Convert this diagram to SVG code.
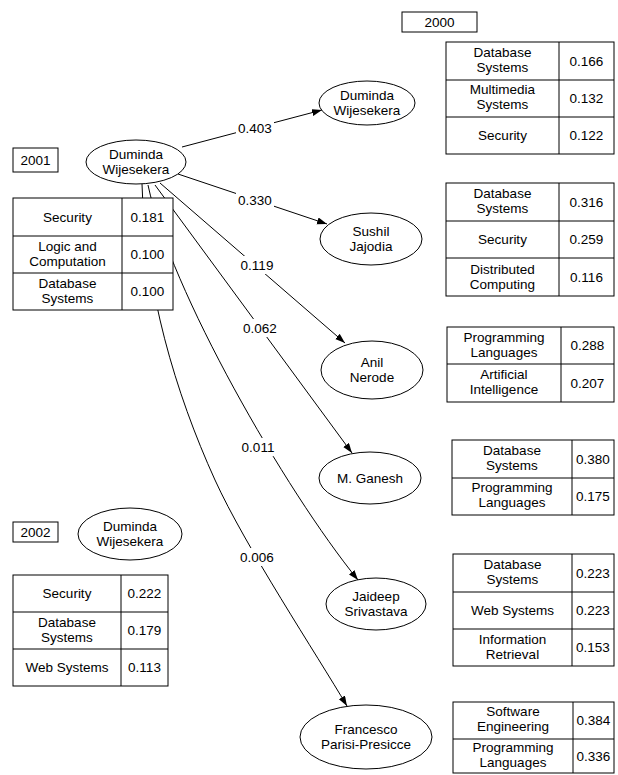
<svg xmlns="http://www.w3.org/2000/svg" width="618" height="775" viewBox="0 0 618 775">
<defs>
<marker id="arr" markerUnits="userSpaceOnUse" markerWidth="11" markerHeight="8" refX="10" refY="3.5" orient="auto">
<path d="M0,0 L10,3.5 L0,7 z" fill="#000"/>
</marker>
</defs>
<style>
text{font-family:"Liberation Sans",Arial,sans-serif;font-size:13.5px;fill:#000;text-anchor:middle}
.e{fill:#fff;stroke:#000;stroke-width:1}
.b{fill:#fff;stroke:#000;stroke-width:1}
.l{fill:none;stroke:#000;stroke-width:1}
.c{fill:none;stroke:#000;stroke-width:1;marker-end:url(#arr)}
.bg{fill:#fff;stroke:none}
</style>
<rect width="618" height="775" fill="#fff"/>

<g id="connectors">
<path class="c" d="M182,147 L322,110"/>
<path class="c" d="M178,174 L327,224"/>
<path class="c" d="M160,183 L345,343"/>
<path class="c" d="M155,185 L352,453"/>
<path class="c" d="M148,185 C170,290 285,490 358,580"/>
<path class="c" d="M142,184 C145,290 175,392 215,480 C245,546 317,655 347,706"/>
<rect class="bg" x="236" y="119" width="38" height="18"/><text x="255" y="132.5">0.403</text>
<rect class="bg" x="236" y="191" width="38" height="18"/><text x="255" y="204.5">0.330</text>
<rect class="bg" x="238" y="256" width="38" height="18"/><text x="257" y="269.5">0.119</text>
<rect class="bg" x="241" y="319" width="38" height="18"/><text x="260" y="332.5">0.062</text>
<rect class="bg" x="239" y="438" width="38" height="18"/><text x="258" y="451.5">0.011</text>
<rect class="bg" x="238" y="548" width="38" height="18"/><text x="257" y="561.5">0.006</text>
</g>

<g id="year2001">
<rect class="b" x="13" y="148" width="45" height="24"/>
<text x="35.5" y="164.5">2001</text>
</g>
<g id="dw2001">
<ellipse class="e" cx="136" cy="162" rx="50" ry="22"/>
<text x="136" y="158.5">Duminda</text>
<text x="136" y="173.5">Wijesekera</text>
</g>
<g id="table2001">
<rect class="b" x="13" y="198" width="160" height="112"/>
<path class="l" d="M122,198 V310 M13,236 H173 M13,273 H173"/>
<text x="67.5" y="221.5">Security</text><text x="147.5" y="221.5">0.181</text>
<text x="67.5" y="251">Logic and</text><text x="67.5" y="266">Computation</text><text x="147.5" y="259">0.100</text>
<text x="67.5" y="288">Database</text><text x="67.5" y="303">Systems</text><text x="147.5" y="296">0.100</text>
</g>

<g id="year2000">
<rect class="b" x="402" y="12" width="75" height="20"/>
<text x="439.5" y="26.5">2000</text>
</g>
<g id="dw2000">
<ellipse class="e" cx="367" cy="103" rx="48" ry="22"/>
<text x="367" y="100">Duminda</text>
<text x="367" y="115">Wijesekera</text>
</g>
<g id="table2000">
<rect class="b" x="446" y="42" width="168" height="112"/>
<path class="l" d="M559,42 V154 M446,80 H614 M446,117 H614"/>
<text x="502.5" y="57">Database</text><text x="502.5" y="72">Systems</text><text x="586.5" y="65.5">0.166</text>
<text x="502.5" y="94">Multimedia</text><text x="502.5" y="109">Systems</text><text x="586.5" y="102.5">0.132</text>
<text x="502.5" y="140">Security</text><text x="586.5" y="140">0.122</text>
</g>

<g id="sushil">
<ellipse class="e" cx="371" cy="239" rx="51" ry="26"/>
<text x="371" y="236">Sushil</text>
<text x="371" y="251">Jajodia</text>
</g>
<g id="tableSushil">
<rect class="b" x="446" y="183" width="168" height="113"/>
<path class="l" d="M559,183 V296 M446,221 H614 M446,258 H614"/>
<text x="502.5" y="198">Database</text><text x="502.5" y="213">Systems</text><text x="586.5" y="206.5">0.316</text>
<text x="502.5" y="244">Security</text><text x="586.5" y="244">0.259</text>
<text x="502.5" y="274">Distributed</text><text x="502.5" y="289">Computing</text><text x="586.5" y="281.5">0.116</text>
</g>

<g id="anil">
<ellipse class="e" cx="372" cy="370" rx="51" ry="29"/>
<text x="372" y="367">Anil</text>
<text x="372" y="382">Nerode</text>
</g>
<g id="tableAnil">
<rect class="b" x="447" y="327" width="167" height="75"/>
<path class="l" d="M561,327 V402 M447,364 H614"/>
<text x="504" y="342">Programming</text><text x="504" y="357">Languages</text><text x="587.5" y="350">0.288</text>
<text x="504" y="379">Artificial</text><text x="504" y="394">Intelligence</text><text x="587.5" y="387.5">0.207</text>
</g>

<g id="ganesh">
<ellipse class="e" cx="370" cy="478" rx="51" ry="26"/>
<text x="370" y="482.5">M. Ganesh</text>
</g>
<g id="tableGanesh">
<rect class="b" x="452" y="440" width="162" height="75"/>
<path class="l" d="M572,440 V515 M452,478 H614"/>
<text x="512" y="455">Database</text><text x="512" y="470">Systems</text><text x="593" y="463.5">0.380</text>
<text x="512" y="492">Programming</text><text x="512" y="507">Languages</text><text x="593" y="500.5">0.175</text>
</g>

<g id="jaideep">
<ellipse class="e" cx="376" cy="604" rx="50" ry="26"/>
<text x="376" y="601">Jaideep</text>
<text x="376" y="616">Srivastava</text>
</g>
<g id="tableJaideep">
<rect class="b" x="453" y="554" width="161" height="112"/>
<path class="l" d="M572,554 V666 M453,592 H614 M453,629 H614"/>
<text x="512.5" y="569">Database</text><text x="512.5" y="584">Systems</text><text x="593" y="577.5">0.223</text>
<text x="512.5" y="615">Web Systems</text><text x="593" y="615">0.223</text>
<text x="512.5" y="644">Information</text><text x="512.5" y="659">Retrieval</text><text x="593" y="652">0.153</text>
</g>

<g id="francesco">
<ellipse class="e" cx="366" cy="737" rx="66" ry="32"/>
<text x="366" y="734">Francesco</text>
<text x="366" y="749">Parisi-Presicce</text>
</g>
<g id="tableFrancesco">
<rect class="b" x="453" y="702" width="161" height="71"/>
<path class="l" d="M573,702 V773 M453,739 H614"/>
<text x="513" y="716">Software</text><text x="513" y="731">Engineering</text><text x="593.5" y="725">0.384</text>
<text x="513" y="752">Programming</text><text x="513" y="767">Languages</text><text x="593.5" y="760.5">0.336</text>
</g>

<g id="year2002">
<rect class="b" x="13" y="522" width="45" height="20"/>
<text x="35.5" y="536.5">2002</text>
</g>
<g id="dw2002">
<ellipse class="e" cx="130" cy="534" rx="52" ry="26"/>
<text x="130" y="531">Duminda</text>
<text x="130" y="546">Wijesekera</text>
</g>
<g id="table2002">
<rect class="b" x="13" y="575" width="155" height="111"/>
<path class="l" d="M121,575 V686 M13,612 H168 M13,649 H168"/>
<text x="67" y="598">Security</text><text x="144.5" y="598">0.222</text>
<text x="67" y="627">Database</text><text x="67" y="642">Systems</text><text x="144.5" y="635">0.179</text>
<text x="67" y="672">Web Systems</text><text x="144.5" y="672">0.113</text>
</g>
</svg>
